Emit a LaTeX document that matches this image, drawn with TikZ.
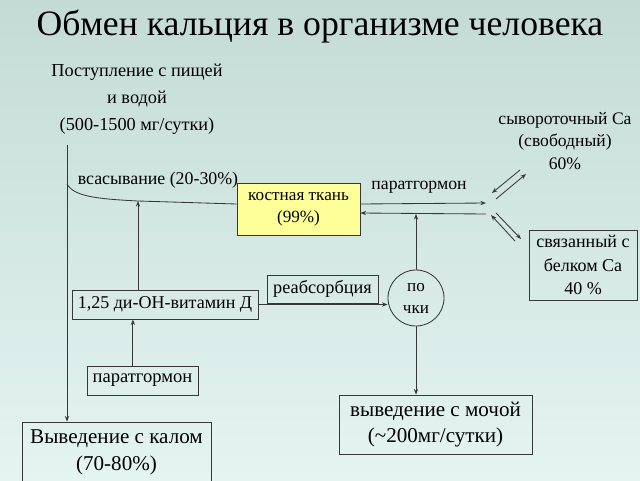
\documentclass[tikz,border=0pt]{standalone}
\usepackage{fontspec}
\setmainfont{Liberation Serif}
\usetikzlibrary{arrows.meta}

\definecolor{bgtop}{RGB}{196,219,213}
\definecolor{bgbot}{RGB}{228,244,241}
\definecolor{boneyellow}{RGB}{255,255,153}
\definecolor{linegray}{RGB}{55,55,55}

\begin{document}
\begin{tikzpicture}[x=0.25mm,y=-0.25mm,>={Stealth[length=4pt,width=3pt]},line width=0.6pt]
%background, fixes the page size too
\shade[top color=bgtop,bottom color=bgbot] (0,0) rectangle (640,480);
\useasboundingbox (0,0) rectangle (640,480);

%plain text labels
\begin{scope}[every node/.style={align=center,inner sep=0pt}]
    \node[font=\fontsize{25.4}{30}\selectfont] (title) at (320,27) {Обмен кальция в организме человека};
    \node[font=\fontsize{13}{19.2}\selectfont] (intake) at (137,99) {Поступление с пищей\\ и водой\\ (500-1500 мг/сутки)};
    \node[font=\fontsize{12.7}{14}\selectfont] (absorb) at (158,180) {всасывание (20-30\%)};
    \node[font=\fontsize{12.6}{14}\selectfont] (pthtop) at (419,187) {паратгормон};
    \node[font=\fontsize{12.5}{16}\selectfont] (serum) at (565,141) {сывороточный Са\\ (свободный)\\ 60\%};
\end{scope}

%the boxes
\begin{scope}[every node/.style={draw=linegray,align=center,inner sep=0pt,font=\fontsize{12.2}{15.6}\selectfont}]
    \node[fill=boneyellow,minimum width=30.75mm,minimum height=13mm] (bone) at (298.5,209) {костная ткань\\ (99\%)};
    \node[minimum width=46.5mm,minimum height=7.25mm,font=\fontsize{12.8}{15}\selectfont] (vitamin) at (165,304.5) {1,25 ди-ОН-витамин Д};
    \node[minimum width=27.75mm,minimum height=7.25mm,font=\fontsize{13.2}{15}\selectfont] (pth) at (142.5,380.5) {паратгормон};
    \node[minimum width=27.75mm,minimum height=7mm,font=\fontsize{13}{15}\selectfont] (reabs) at (322.5,289) {реабсорбция};
    \node[circle,minimum size=14mm] (kidney) at (416,298) {по\\ чки};
    \node[minimum width=27mm,minimum height=17.5mm,font=\fontsize{12.8}{16.5}\selectfont] (bound) at (583,265) {связанный с\\ белком Са\\ 40 \%};
    \node[minimum width=48.25mm,minimum height=14.75mm,font=\fontsize{15}{18.5}\selectfont] (urine) at (435.5,424.5) {выведение с мочой\\ (\textasciitilde200мг/сутки)};
    \node[minimum width=47.25mm,minimum height=15mm,font=\fontsize{15}{19}\selectfont] (calom) at (116.5,452) {Выведение с калом\\ (70-80\%)};
\end{scope}

%free ends of the connectors
\coordinate (feedtop) at (67,145);
\coordinate (bend) at (67,184);
\coordinate (join) at (138,201);
\coordinate (hubhi) at (486,203);
\coordinate (hublo) at (486,214);
%two pairs of arrows on the right
\coordinate (upA) at (520,170);
\coordinate (upAtip) at (492,193);
\coordinate (upB) at (496,199);
\coordinate (upBtip) at (526,174);
\coordinate (loA) at (515,241);
\coordinate (loAtip) at (491,215);
\coordinate (loB) at (496,213);
\coordinate (loBtip) at (521,239);

\begin{scope}[draw=linegray]
    %intake line down to the faeces box
    \draw[->] (feedtop) -- (feedtop |- calom.north);
    %absorption curve into the bone
    \draw (bend) .. controls (74,197) and (100,199) .. (join) -- ([yshift=1.25mm]bone.west);
    \draw[->] (vitamin.north -| join) -- (join);
    \draw[->] ([xshift=-2.4mm]pth.north) -- ([xshift=-2.4mm]pth.north |- vitamin.south);
    \draw[->] (vitamin.east) -- (vitamin.east -| kidney.west);
    %bone and kidney to the hub
    \draw[->] ([yshift=1.25mm]bone.east) -- (hubhi);
    \draw[->] (hublo) -- ([yshift=-1mm]bone.east);
    \draw[->] (kidney.north) -- (kidney.north |- hublo);
    \draw[->] (kidney.south) -- (kidney.south |- urine.north);
    \draw[->] (upA) -- (upAtip);
    \draw[->] (upB) -- (upBtip);
    \draw[->] (loA) -- (loAtip);
    \draw[->] (loB) -- (loBtip);
\end{scope}
\end{tikzpicture}
\end{document}
